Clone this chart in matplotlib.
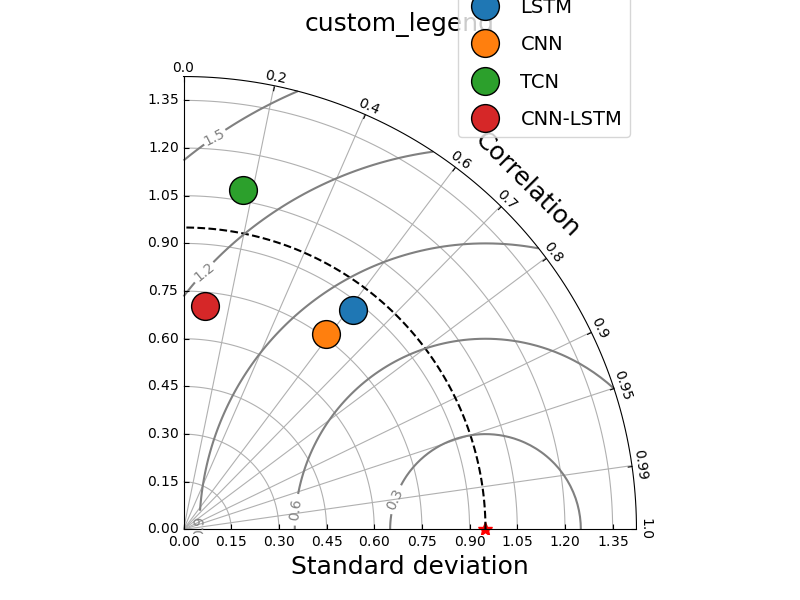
import numpy as np
import matplotlib
matplotlib.use("Agg")
import matplotlib.pyplot as plt
from matplotlib.projections import PolarAxes
import mpl_toolkits.axisartist.floating_axes as FA
import mpl_toolkits.axisartist.grid_finder as GF

# data
ref_std = 0.95
model_names = ["LSTM", "CNN", "TCN", "CNN-LSTM"]
model_std = [0.872, 0.762, 1.083, 0.707]
model_corr = [0.613, 0.590, 0.173, 0.095]
model_colors = ["#1f77b4", "#ff7f0e", "#2ca02c", "#d62728"]
corr_ticks = [0.0, 0.2, 0.4, 0.6, 0.7, 0.8, 0.9, 0.95, 0.99, 1.0]
rms_levels = [0.3, 0.6, 0.9, 1.2, 1.5]

smin = 0.0
smax = 1.5 * ref_std
tmax = np.pi / 2

fig = plt.figure(figsize=(8, 6), dpi=100)

tr = PolarAxes.PolarTransform(apply_theta_transforms=False)
tlocs = np.arccos(np.array(corr_ticks))
gl1 = GF.FixedLocator(tlocs)
tf1 = GF.DictFormatter(dict(zip(tlocs, map(str, corr_ticks))))
ghelper = FA.GridHelperCurveLinear(tr, extremes=(0, tmax, smin, smax),
                                   grid_locator1=gl1, tick_formatter1=tf1)
ax = fig.add_subplot(111, axes_class=FA.FloatingAxes, grid_helper=ghelper)

# correlation axis (arc)
ax.axis["top"].set_axis_direction("bottom")
ax.axis["top"].toggle(ticklabels=True, label=True)
ax.axis["top"].major_ticklabels.set_axis_direction("top")
ax.axis["top"].label.set_axis_direction("top")
ax.axis["top"].label.set_text("Correlation")
ax.axis["top"].label.set_fontsize(18)

# std axis (x)
ax.axis["left"].set_axis_direction("bottom")
ax.axis["left"].label.set_text("Standard deviation")
ax.axis["left"].label.set_fontsize(18)

# std axis (y)
ax.axis["right"].set_axis_direction("top")
ax.axis["right"].toggle(ticklabels=True)
ax.axis["right"].major_ticklabels.set_axis_direction("left")
ax.axis["bottom"].set_visible(False)

ax.grid(True)
pax = ax.get_aux_axes(tr)

# reference point and its std arc
pax.plot([0], [ref_std], "r*", ls="", ms=10, label="_")
t = np.linspace(0, tmax, 100)
pax.plot(t, np.zeros_like(t) + ref_std, "k--")

# centred RMS contours
rs, ts = np.meshgrid(np.linspace(smin, smax, 100), np.linspace(0, tmax, 100))
rms = np.sqrt(ref_std ** 2 + rs ** 2 - 2 * ref_std * rs * np.cos(ts))
cs = pax.contour(ts, rs, rms, rms_levels, colors="0.5", linewidths=1.5)
ax.clabel(cs, inline=1, fontsize=10, fmt="%.1f")

for name, s, c, col in zip(model_names, model_std, model_corr, model_colors):
    pax.plot(np.arccos(c), s, "o", ls="", ms=20, mfc=col, mec="k",
             label=name)

handles, labels = pax.get_legend_handles_labels()
fig.legend(handles, labels, numpoints=1, prop=dict(size=14),
           loc="lower right", bbox_to_anchor=(0.7875, 0.772),
           borderaxespad=0, labelspacing=0.95)
fig.suptitle("custom_legend", size=18)

plt.savefig("out.png")
